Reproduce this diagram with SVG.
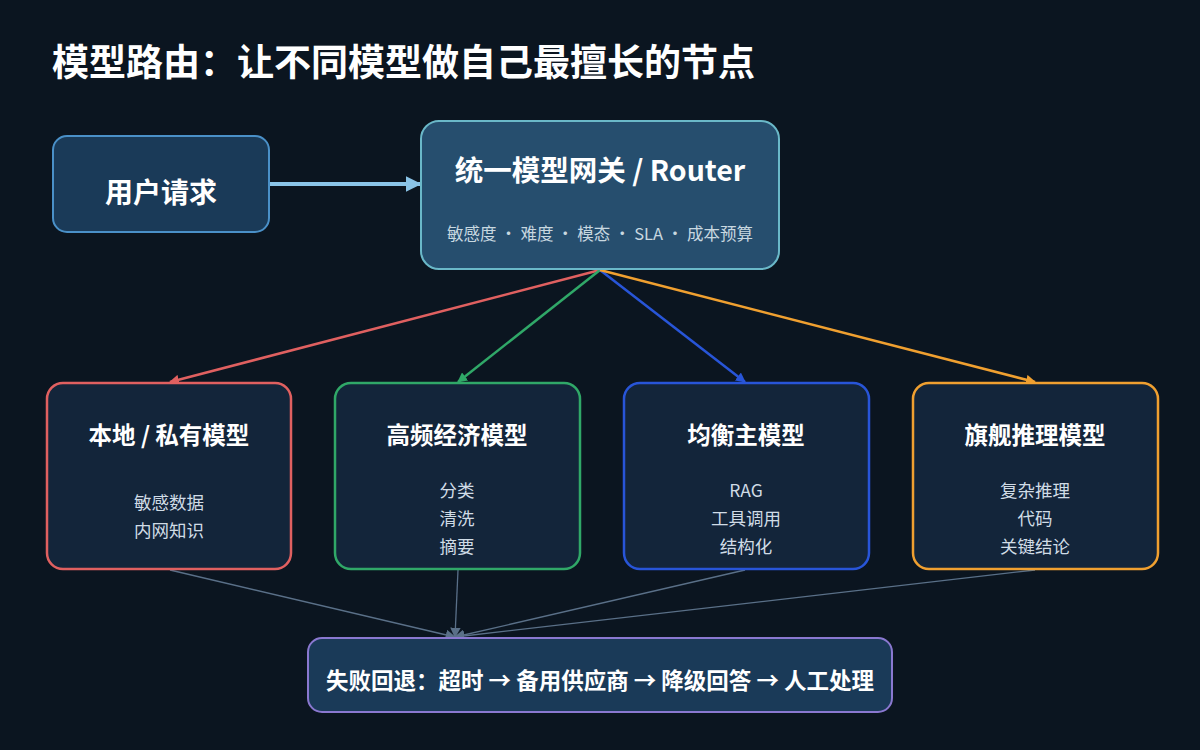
<svg xmlns="http://www.w3.org/2000/svg" width="1200" height="750" viewBox="0 0 1200 750">
<style>
text{font-family:"Noto Sans CJK SC","Noto Sans",sans-serif;fill:#fff;text-anchor:middle}
.t{font-weight:bold}
.h{font-weight:bold;font-size:23.5px}
.s{fill:#d0dce6;font-size:17.5px}
.m{fill:#13253a;stroke-width:2.5}
</style>
<defs>
<marker id="ar" viewBox="0 0 10 10" refX="9" refY="5" markerWidth="4" markerHeight="4" orient="auto"><path d="M0 0L10 5L0 10z" fill="#e06060"/></marker>
<marker id="ag" viewBox="0 0 10 10" refX="9" refY="5" markerWidth="4" markerHeight="4" orient="auto"><path d="M0 0L10 5L0 10z" fill="#30a868"/></marker>
<marker id="ab" viewBox="0 0 10 10" refX="9" refY="5" markerWidth="4" markerHeight="4" orient="auto"><path d="M0 0L10 5L0 10z" fill="#2855d8"/></marker>
<marker id="ao" viewBox="0 0 10 10" refX="9" refY="5" markerWidth="4" markerHeight="4" orient="auto"><path d="M0 0L10 5L0 10z" fill="#f0a030"/></marker>
<marker id="au" viewBox="0 0 10 10" refX="9" refY="5" markerWidth="4" markerHeight="4" orient="auto"><path d="M0 0L10 5L0 10z" fill="#8ac4e8"/></marker>
<marker id="ay" viewBox="0 0 10 10" refX="9" refY="5" markerWidth="8" markerHeight="8" orient="auto"><path d="M0 0L10 5L0 10z" fill="#5a7088"/></marker>
</defs>
<rect width="1200" height="750" fill="#0b1520"/>
<text x="52" y="76" class="t" style="font-size:37px;text-anchor:start">模型路由：让不同模型做自己最擅长的节点</text>
<g id="connectors" fill="none">
<line x1="270" y1="184" x2="420" y2="184" stroke="#8ac4e8" stroke-width="4" marker-end="url(#au)"/>
<line x1="600" y1="270" x2="170" y2="382" stroke="#e06060" stroke-width="2.5" marker-end="url(#ar)"/>
<line x1="600" y1="270" x2="458" y2="382" stroke="#30a868" stroke-width="2.5" marker-end="url(#ag)"/>
<line x1="600" y1="270" x2="745" y2="382" stroke="#2855d8" stroke-width="2.5" marker-end="url(#ab)"/>
<line x1="600" y1="270" x2="1035" y2="382" stroke="#f0a030" stroke-width="2.5" marker-end="url(#ao)"/>
<g stroke="#5a7088" stroke-width="1.3">
<line x1="170" y1="570" x2="455" y2="637" marker-end="url(#ay)"/>
<line x1="458" y1="570" x2="455" y2="637" marker-end="url(#ay)"/>
<line x1="745" y1="570" x2="455" y2="637" marker-end="url(#ay)"/>
<line x1="1035" y1="570" x2="455" y2="637" marker-end="url(#ay)"/>
</g>
</g>
<g id="user"><rect x="53" y="136" width="216" height="96" rx="14" fill="#1a3a58" stroke="#4a90c8" stroke-width="2"/><text x="161" y="203" class="t" style="font-size:28px">用户请求</text></g>
<g id="router"><rect x="421" y="121" width="358" height="148" rx="18" fill="#264e6e" stroke="#6ab8c8" stroke-width="2"/><text x="600" y="181" class="t" style="font-size:28.5px">统一模型网关 / Router</text><text x="600" y="240" style="font-size:16.5px;fill:#c8d8e0">敏感度 · 难度 · 模态 · SLA · 成本预算</text></g>
<g id="local"><rect x="47" y="383" width="244" height="186" rx="16" class="m" stroke="#e06060"/><text x="169" y="444" class="h">本地 / 私有模型</text><text x="169" y="509" class="s">敏感数据</text><text x="169" y="537" class="s">内网知识</text></g>
<g id="cheap"><rect x="335" y="383" width="245" height="186" rx="16" class="m" stroke="#30a868"/><text x="457" y="444" class="h">高频经济模型</text><text x="457" y="497" class="s">分类</text><text x="457" y="525" class="s">清洗</text><text x="457" y="553" class="s">摘要</text></g>
<g id="balanced"><rect x="624" y="383" width="245" height="186" rx="16" class="m" stroke="#2855d8"/><text x="746" y="444" class="h">均衡主模型</text><text x="746" y="497" class="s">RAG</text><text x="746" y="525" class="s">工具调用</text><text x="746" y="553" class="s">结构化</text></g>
<g id="flagship"><rect x="913" y="383" width="245" height="186" rx="16" class="m" stroke="#f0a030"/><text x="1035" y="444" class="h">旗舰推理模型</text><text x="1035" y="497" class="s">复杂推理</text><text x="1035" y="525" class="s">代码</text><text x="1035" y="553" class="s">关键结论</text></g>
<g id="fallback"><rect x="308" y="638" width="584" height="74" rx="14" fill="#1a3a58" stroke="#8a78d0" stroke-width="2"/><text x="600" y="689" class="t" style="font-size:22.5px">失败回退：超时 → 备用供应商 → 降级回答 → 人工处理</text></g>
</svg>
